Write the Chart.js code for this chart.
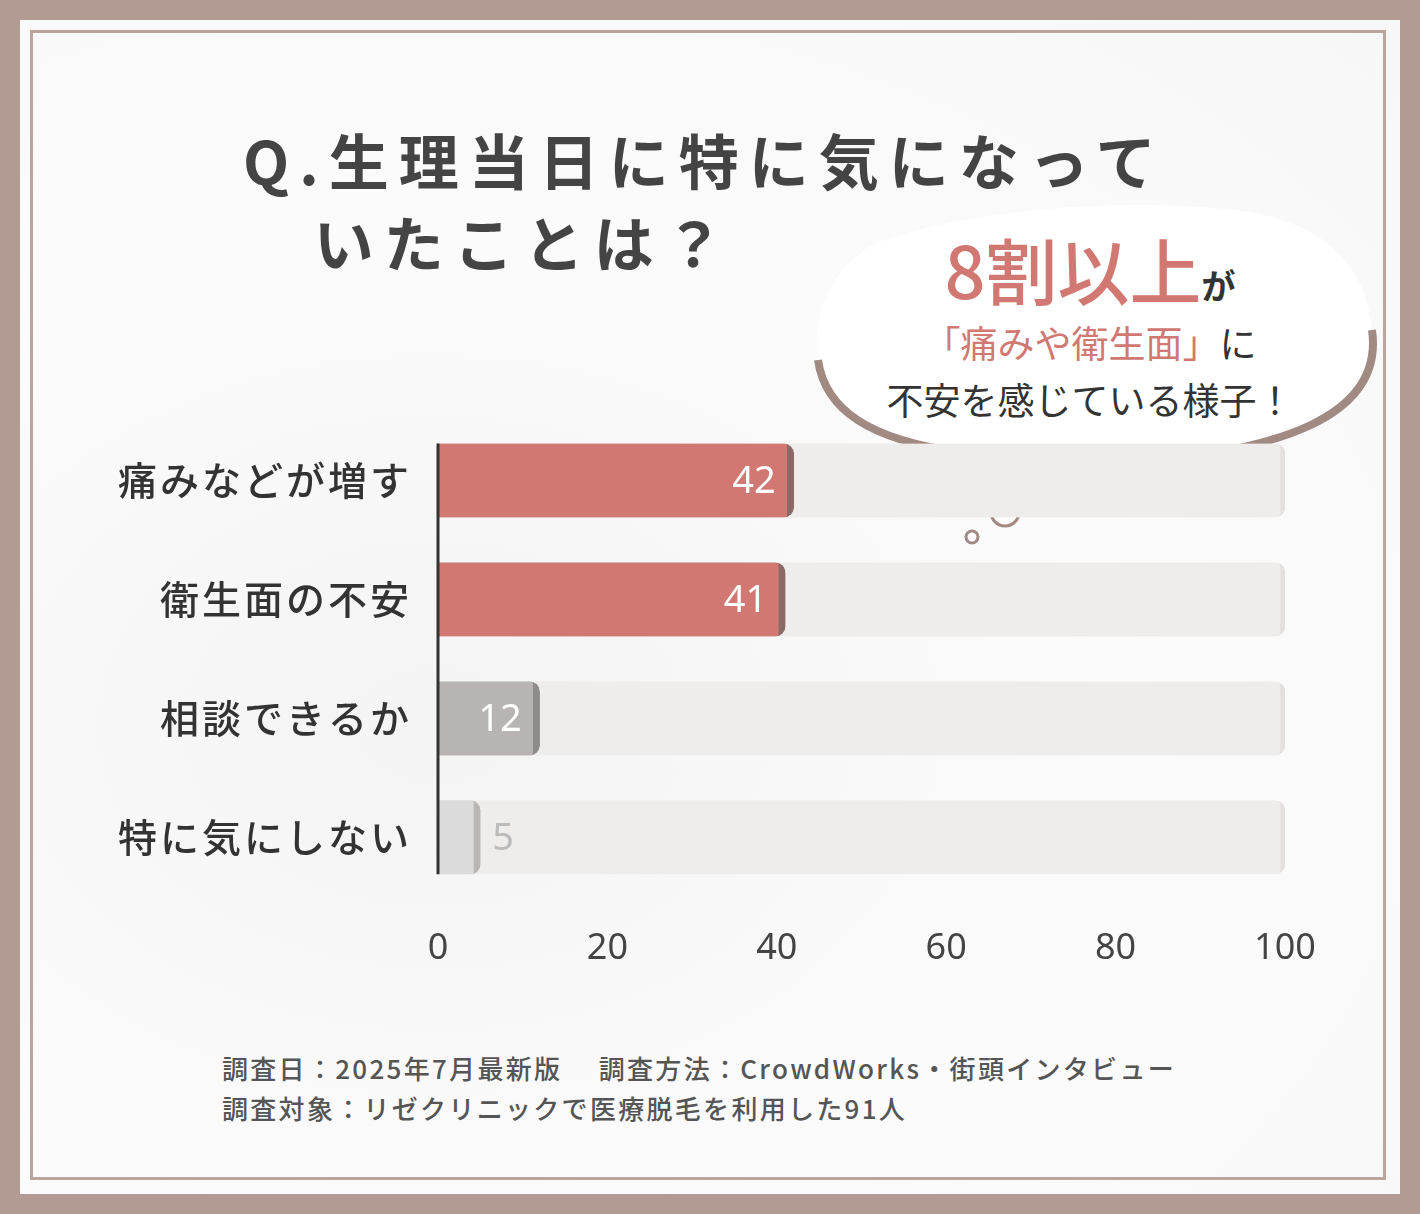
<!DOCTYPE html>
<html><head><meta charset="utf-8">
<script src="https://cdn.jsdelivr.net/npm/chart.js@4/dist/chart.umd.min.js"></script>
<style>
html,body{margin:0;padding:0;}
body{width:1420px;height:1214px;background:#b19b92;position:relative;overflow:hidden;font-family:"Noto Sans CJK JP","Noto Sans",sans-serif;}
#paper{position:absolute;left:20px;top:20px;width:1380px;height:1174px;background:radial-gradient(ellipse at 30% 60%,#f4f4f4 0%,#fbfbfb 50%,#f7f7f7 100%);}
#inner{position:absolute;left:30px;top:30px;width:1356px;height:1150px;border:3px solid #b9a59c;box-sizing:border-box;}
#title{position:absolute;left:243px;top:118px;font-size:60px;font-weight:700;color:#444;letter-spacing:10px;line-height:82px;}
#bubble{position:absolute;left:0;top:0;}
#btxt{position:absolute;left:820px;top:222px;width:540px;text-align:center;color:#333;font-size:37px;line-height:57px;}
#foot{position:absolute;left:222px;top:1048px;font-size:26px;font-weight:500;color:#555;line-height:40px;letter-spacing:2.3px;}
canvas{position:absolute;left:0;top:380px;}
</style></head><body>
<div id="paper"></div><div id="inner"></div>
<div id="title">Q.生理当日に特に気になって<br>&nbsp;&nbsp;&nbsp;いたことは？</div>
<svg id="bubble" width="1420" height="600">
<path d="M900,235 C820,255 800,340 830,400 C860,445 960,455 1045,462 C1052,478 1062,492 1082,486 C1094,474 1105,468 1145,462 C1270,450 1385,420 1372,330 C1365,260 1320,225 1250,212 C1150,198 1000,205 900,235 Z" fill="#fff"/>
<path d="M818,360 C825,410 870,440 960,452 C1000,458 1030,460 1045,462 C1052,478 1062,492 1082,486 C1094,474 1105,468 1145,462 C1270,450 1385,420 1372,330" fill="none" stroke="#a08a82" stroke-width="8"/>
<circle cx="1005" cy="512" r="14" fill="#fff" stroke="#a08a82" stroke-width="3"/>
<circle cx="972" cy="537" r="6" fill="#fff" stroke="#a08a82" stroke-width="3"/>
</svg>
<div id="btxt"><span style="color:#d27873;font-size:72px;font-weight:500;line-height:92px">8割以上</span><span style="font-size:34px;font-weight:700">が</span><br><span style="color:#d27873">「痛みや衛生面」</span>に<br>不安を感じている様子！</div>
<div id="foot">調査日：2025年7月最新版　 調査方法：CrowdWorks・街頭インタビュー<br>調査対象：リゼクリニックで医療脱毛を利用した91人</div>
<canvas id="c" width="1420" height="626"></canvas>
<script>
const categories=["痛みなどが増す","衛生面の不安","相談できるか","特に気にしない"];
const values=[42,41,12,5];
const fullValues=[100,100,100,100];
const xTicks=[0,20,40,60,80,100];
const barColors=["#d27873","#d27873","#b8b4b3","#dcdbdb"];
const edgeColors=["#8a6a66","#8a6a66","#8f8b8a","#b8b6b5"];
const labelColors=["#fff","#fff","#fff","#bbb"];

const extras={id:"extras",afterDatasetsDraw(ch){
 const ctx=ch.ctx,y=ch.scales.y,x=ch.scales.x;
 ctx.save();
 ctx.fillStyle="#333";ctx.font="500 39px 'Noto Sans CJK JP'";ctx.textAlign="right";ctx.textBaseline="middle";
 ctx.letterSpacing="3px";
 categories.forEach((c,i)=>ctx.fillText(c,412,y.getPixelForValue(i)));
 ctx.letterSpacing="0px";
 const m=ch.getDatasetMeta(1);
 ctx.font="38px 'Noto Sans'";
 m.data.forEach((b,i)=>{
  ctx.fillStyle=labelColors[i];
  if(values[i]<8){ctx.textAlign="left";ctx.fillText(values[i],b.x+12,b.y+2);}
  else{ctx.textAlign="right";ctx.fillText(values[i],b.x-18,b.y+2);}
 });
 ctx.strokeStyle="#333";ctx.lineWidth=3;ctx.beginPath();
 ctx.moveTo(x.getPixelForValue(0),y.getPixelForValue(0)-37);
 ctx.lineTo(x.getPixelForValue(0),y.getPixelForValue(3)+37);ctx.stroke();
 ctx.restore();
}};
new Chart(document.getElementById("c"),{type:"bar",
 data:{labels:categories,datasets:[
  {data:fullValues,backgroundColor:"#efecec",borderColor:"#e4e0df",borderWidth:{right:5},borderSkipped:false,borderRadius:{topRight:10,bottomRight:10},barThickness:74,grouped:false,order:2},
  {data:values,backgroundColor:barColors,borderColor:edgeColors,borderWidth:{right:7},borderSkipped:false,borderRadius:{topRight:10,bottomRight:10},barThickness:74,grouped:false,order:1}
 ]},
 options:{indexAxis:"y",responsive:false,animation:false,
  layout:{padding:{left:438,right:135,top:41,bottom:14}},
  plugins:{legend:{display:false},tooltip:{enabled:false}},
  scales:{
   x:{min:0,max:100,afterBuildTicks:s=>{s.ticks=xTicks.map(v=>({value:v}));},grid:{display:false},border:{display:false},
      ticks:{color:"#444",font:{size:36,family:"Noto Sans"},padding:22}},
   y:{display:false}
  }},
 plugins:[extras]});
</script>
</body></html>
